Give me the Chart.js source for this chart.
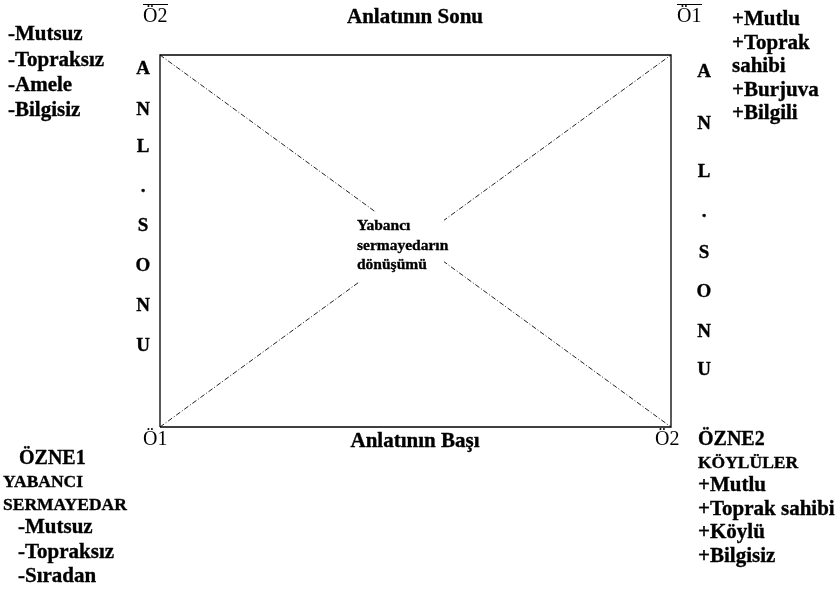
<!DOCTYPE html>
<html>
<head>
<meta charset="utf-8">
<script src="https://cdn.jsdelivr.net/npm/chart.js@4"></script>
<style>
  body { margin: 0; background: #fff; }
  #wrap { width: 840px; height: 589px; }
</style>
</head>
<body>
<div id="wrap"><canvas id="kare" width="840" height="589"></canvas></div>
<script>
// corners of the square (unit box: 0 = start / left, 1 = end / right)
var kutu = [{x:0,y:0},{x:1,y:0},{x:1,y:1},{x:0,y:1},{x:0,y:0}];
var kosegen1 = [{x:0,y:0},{x:1,y:1}];
var kosegen2 = [{x:0,y:1},{x:1,y:0}];

// texts
var ustBaslik = "Anlatının Sonu";
var altBaslik = "Anlatının Başı";
var solUst = ["-Mutsuz","-Topraksız","-Amele","-Bilgisiz"];
var sagUst = ["+Mutlu","+Toprak","sahibi","+Burjuva","+Bilgili"];
var dikey = ["A","N","L",".","S","O","N","U"];
var ozne1 = ["-Mutsuz","-Topraksız","-Sıradan"];
var ozne2 = ["+Mutlu","+Toprak sahibi","+Köylü","+Bilgisiz"];
var merkez = ["Yabancı","sermayedarın","dönüşümü"];

var serif = '"Liberation Serif", "Times New Roman", serif';

function yaz(ctx, t, x, y, size, bold, align) {
  ctx.font = (bold ? "bold " : "") + size + "px " + serif;
  ctx.textAlign = align || "left";
  ctx.textBaseline = "middle";
  ctx.fillStyle = "#000";
  ctx.fillText(t, x, y);
  if (bold) {
    // a touch heavier, like the original print
    ctx.strokeStyle = "#000";
    ctx.lineWidth = 0.35;
    ctx.strokeText(t, x, y);
  }
}

var metinler = {
  id: "metinler",
  afterDatasetsDraw: function(chart) {
    var ctx = chart.ctx;
    ctx.save();
    // white patch in the middle, over the diagonals
    ctx.fillStyle = "#fff";
    ctx.fillRect(352, 212, 92, 70);

    yaz(ctx, ustBaslik, 415, 18, 21, true, "center");
    yaz(ctx, altBaslik, 415, 442, 21, true, "center");

    // Ö labels
    yaz(ctx, "Ö2", 143, 17, 20, false);
    yaz(ctx, "Ö1", 677, 17, 20, false);
    ctx.strokeStyle = "#000";
    ctx.lineWidth = 1;
    ctx.beginPath();
    ctx.moveTo(143, 4.5); ctx.lineTo(168, 4.5);
    ctx.moveTo(677, 4.5); ctx.lineTo(702, 4.5);
    ctx.stroke();
    yaz(ctx, "Ö1", 143, 440, 20, false);
    yaz(ctx, "Ö2", 655, 440, 20, false);

    solUst.forEach(function(t, i) { yaz(ctx, t, 8, 35 + i * 25.3, 21, true); });
    sagUst.forEach(function(t, i) { yaz(ctx, t, 732, 20 + i * 23.5, 21, true); });

    var solY = [69, 110, 147, 187, 226, 266, 306, 346];
    var sagY = [72, 124, 172, 212, 253, 292, 332, 370];
    dikey.forEach(function(t, i) {
      yaz(ctx, t, 143, solY[i], 19, true, "center");
      yaz(ctx, t, 704, sagY[i], 19, true, "center");
    });

    merkez.forEach(function(t, i) { yaz(ctx, t, 357, 226 + i * 19.5, 15.5, true); });

    yaz(ctx, "ÖZNE1", 19, 459, 20, true);
    yaz(ctx, "YABANCI", 3, 482, 17.5, true);
    yaz(ctx, "SERMAYEDAR", 3, 505, 17.5, true);
    ozne1.forEach(function(t, i) { yaz(ctx, t, 18, 528 + i * 24.5, 21, true); });

    yaz(ctx, "ÖZNE2", 698, 440, 20, true);
    yaz(ctx, "KÖYLÜLER", 698, 463, 17.5, true);
    ozne2.forEach(function(t, i) { yaz(ctx, t, 698, 486 + i * 23.5, 21, true); });
    ctx.restore();
  }
};

var ctx = document.getElementById("kare");
var kare = new Chart(ctx, {
  type: "scatter",
  data: {
    datasets: [
      { data: kutu, showLine: true, borderColor: "#000", borderWidth: 1.3, pointRadius: 0, fill: false },
      { data: kosegen1, showLine: true, borderColor: "#222", borderWidth: 1, borderDash: [5, 2, 1, 2], pointRadius: 0, fill: false },
      { data: kosegen2, showLine: true, borderColor: "#222", borderWidth: 1, borderDash: [5, 2, 1, 2], pointRadius: 0, fill: false }
    ]
  },
  options: {
    responsive: false,
    animation: false,
    layout: { padding: 0 },
    plugins: { legend: { display: false }, tooltip: { enabled: false } },
    scales: {
      x: { type: "linear", display: false, min: -160 / 511, max: 680 / 511 },
      y: { type: "linear", display: false, min: -162 / 372, max: 1 + 55 / 372 }
    }
  },
  plugins: [metinler]
});
</script>
</body>
</html>
